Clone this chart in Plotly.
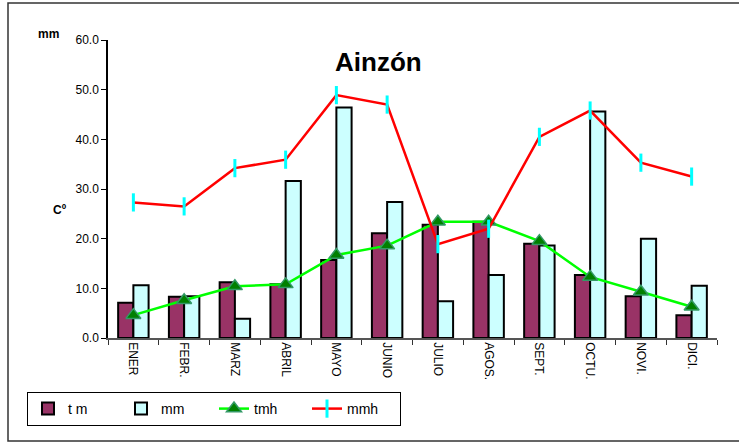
import plotly.graph_objects as go

months = ["ENER", "FEBR.", "MARZ", "ABRIL", "MAYO", "JUNIO", "JULIO", "AGOS.", "SEPT.", "OCTU.", "NOVI.", "DICI."]
tm = [7.1, 8.3, 11.2, 10.8, 15.7, 21.1, 22.8, 23.4, 19.0, 12.7, 8.4, 4.6]
mm = [10.6, 8.4, 3.9, 31.6, 46.4, 27.4, 7.4, 12.7, 18.6, 45.6, 20.0, 10.5]
tmh = [4.6, 7.6, 10.4, 10.8, 16.7, 18.6, 23.4, 23.4, 19.5, 12.3, 9.3, 6.3]
mmh = [27.3, 26.5, 34.2, 35.9, 48.9, 47.0, 18.9, 22.0, 40.5, 45.8, 35.3, 32.5]
yticks = [0, 10, 20, 30, 40, 50, 60]
ytick_labels = ["0.0", "10.0", "20.0", "30.0", "40.0", "50.0", "60.0"]

W, H = 739, 442
L, R, T, B = 108, 22, 40, 104
pw, ph = W - L - R, H - T - B

def px(x):
    return (x - L) / pw

def py(y):
    return (H - B - y) / ph

fig = go.Figure()
fig.add_trace(go.Bar(x=months, y=tm, name="t m",
                     marker=dict(color="#993366", line=dict(color="black", width=2))))
fig.add_trace(go.Bar(x=months, y=mm, name="mm",
                     marker=dict(color="#CCFFFF", line=dict(color="black", width=2))))
fig.add_trace(go.Scatter(x=months, y=tmh, name="tmh", mode="lines+markers",
                         line=dict(color="#00FF00", width=2.5),
                         marker=dict(symbol="triangle-up", size=13, color="#008000",
                                     line=dict(color="#339966", width=1.5))))
fig.add_trace(go.Scatter(x=months, y=mmh, name="mmh", mode="lines+markers",
                         line=dict(color="#FF0000", width=2.5),
                         marker=dict(symbol="line-ns", size=13,
                                     line=dict(color="#00FFFF", width=3))))

fig.update_layout(
    width=W, height=H,
    margin=dict(l=L, r=R, t=T, b=B),
    paper_bgcolor="white", plot_bgcolor="white",
    font=dict(family="Arial, Liberation Sans, sans-serif", size=12, color="black"),
    barmode="group", bargap=0.4, bargroupgap=0,
    showlegend=True,
    legend=dict(orientation="h", x=px(27), y=py(392), xanchor="left", yanchor="top",
                bordercolor="black", borderwidth=1, bgcolor="white",
                font=dict(size=14), entrywidth=48, entrywidthmode="pixels",
                tracegroupgap=0),
    xaxis=dict(showgrid=False, showline=True, linecolor="#555555", linewidth=1.5,
               ticks="outside", ticklen=5, tickcolor="#333333", tickson="boundaries",
               tickangle=90, tickfont=dict(size=12), range=[-0.5, 11.5]),
    yaxis=dict(showgrid=False, showline=True, linecolor="black", linewidth=1.5,
               ticks="outside", ticklen=5, tickcolor="black",
               range=[0, 60], tickvals=yticks, ticktext=ytick_labels,
               tickfont=dict(size=12), zeroline=False),
)

fig.add_annotation(text="<b>Ainzón</b>", xref="paper", yref="paper",
                   x=px(378), y=py(45), showarrow=False,
                   font=dict(size=26, color="black"))
fig.add_annotation(text="<b>mm</b>", xref="paper", yref="paper",
                   x=px(36), y=py(25), showarrow=False, font=dict(size=12))
fig.add_annotation(text="<b>Cº</b>", xref="paper", yref="paper",
                   x=px(51), y=py(210), showarrow=False, font=dict(size=12))
fig.add_shape(type="rect", xref="paper", yref="paper",
              x0=px(8), x1=px(745), y0=py(441), y1=py(3),
              line=dict(color="#333333", width=1.5), layer="below")

fig.write_html("out.html", config={"displayModeBar": False},
               post_script="document.body.style.margin='0';document.body.style.overflow='hidden';")
